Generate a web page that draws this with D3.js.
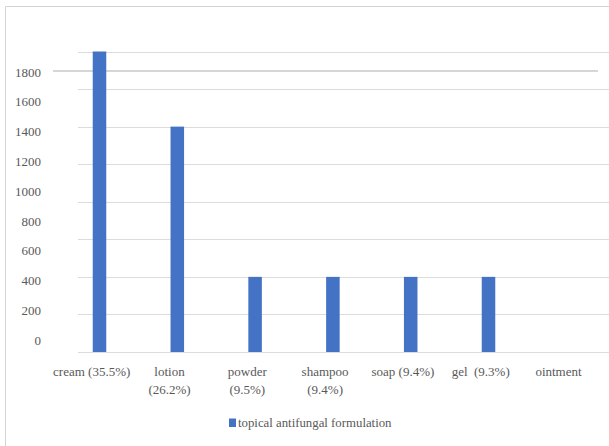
<!DOCTYPE html>
<html>
<head>
<meta charset="utf-8">
<script src="https://cdn.jsdelivr.net/npm/d3@7"></script>
<style>
  html, body { margin: 0; padding: 0; background: #fff; }
  svg text { font-family: "Liberation Serif", "Times New Roman", Tinos, "DejaVu Serif", serif; white-space: pre; }
</style>
</head>
<body>
<svg id="chart" width="609" height="446"></svg>
<script>
// Formulation categories (line breaks mark wrapped axis labels)
const categories = [
  "cream (35.5%)",
  "lotion\n(26.2%)",
  "powder\n(9.5%)",
  "shampoo\n(9.4%)",
  "soap (9.4%)",
  "gel  (9.3%)",
  "ointment"
];
// Bar values, one per category
const values = [1600, 1200, 400, 400, 400, 400, 0];
// Values printed along the vertical axis
const tickLabels = [0, 200, 400, 600, 800, 1000, 1200, 1400, 1600, 1800];
// Gridline values of the plotting area
const gridValues = [0, 200, 400, 600, 800, 1000, 1200, 1400, 1600];
const seriesName = "topical antifungal formulation";

const svg = d3.select("#chart");
const textColor = "#595959";

// Outer frame (left and top edges)
svg.append("path")
  .attr("d", "M5.5,446 V6.5 H609")
  .attr("fill", "none")
  .attr("stroke", "#d4d4d4")
  .attr("stroke-width", 1);

// Scales
const x = d3.scaleBand()
  .domain(categories)
  .range([60.6, 605.2])
  .paddingInner(0.826)
  .paddingOuter(0.413);

const y = d3.scaleLinear()
  .domain([0, 1600])
  .range([352, 51.5]);

const yLabel = d3.scaleLinear()
  .domain([0, 1800])
  .range([340, 72]);

// Horizontal gridlines
svg.append("g")
  .selectAll("line")
  .data(gridValues)
  .join("line")
  .attr("x1", 78)
  .attr("x2", 609)
  .attr("y1", d => Math.round(y(d)) + 0.5)
  .attr("y2", d => Math.round(y(d)) + 0.5)
  .attr("stroke", "#dcdcdc")
  .attr("stroke-width", 1.2);

// Line at the top axis value
svg.append("line")
  .attr("x1", 53)
  .attr("x2", 598)
  .attr("y1", yLabel(1800) - 1)
  .attr("y2", yLabel(1800) - 1)
  .attr("stroke", "#d6d6d6")
  .attr("stroke-width", 1.8);

// Vertical axis labels
const yAxis = d3.axisLeft(yLabel)
  .tickValues(tickLabels)
  .tickFormat(d3.format("d"))
  .tickSize(0)
  .tickPadding(0);

const yAxisG = svg.append("g")
  .attr("transform", "translate(41,0)")
  .call(yAxis)
  .attr("font-family", null)
  .attr("font-size", 13);
yAxisG.select(".domain").remove();
yAxisG.selectAll("text")
  .attr("fill", textColor);

// Bars
svg.append("g")
  .selectAll("rect")
  .data(values)
  .join("rect")
  .attr("x", (d, i) => x(categories[i]))
  .attr("width", x.bandwidth())
  .attr("y", d => y(d))
  .attr("height", d => y(0) - y(d))
  .attr("fill", "#4472C4");

// Category labels
const catG = svg.append("g")
  .attr("font-size", 13)
  .attr("fill", textColor)
  .attr("text-anchor", "middle");

categories.forEach(c => {
  const cx = x(c) + x.bandwidth() / 2 - 7.8;
  const t = catG.append("text").attr("x", cx).attr("y", 376);
  c.split("\n").forEach((line, j) => {
    t.append("tspan")
      .attr("x", cx)
      .attr("dy", j === 0 ? 0 : 17.5)
      .text(line);
  });
});

// Legend
const legend = svg.append("g");
legend.append("rect")
  .attr("x", 229)
  .attr("y", 418.5)
  .attr("width", 7)
  .attr("height", 8.5)
  .attr("fill", "#4472C4");
legend.append("text")
  .attr("x", 238)
  .attr("y", 423)
  .attr("dy", "0.35em")
  .attr("font-size", 12.8)
  .attr("fill", textColor)
  .text(seriesName);
</script>
</body>
</html>
